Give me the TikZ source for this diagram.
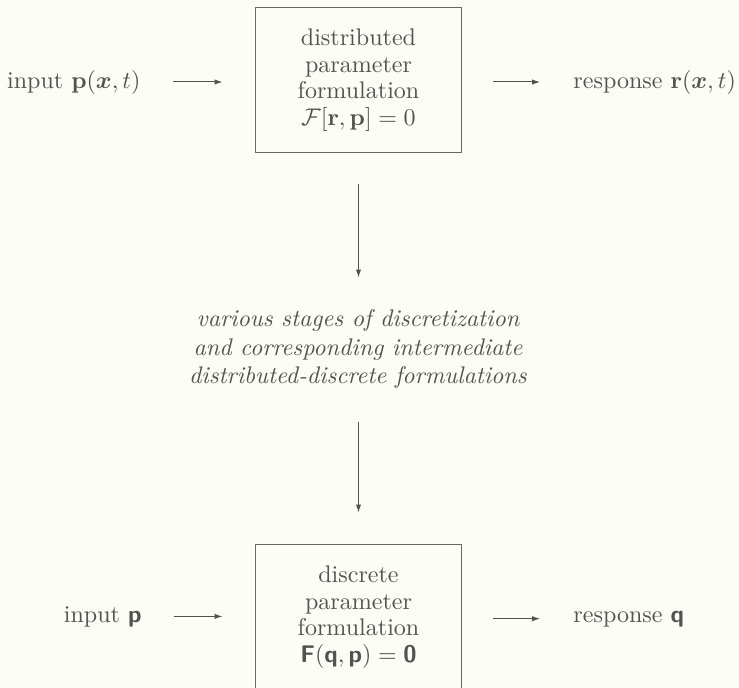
\documentclass[tikz,border=0pt]{standalone}
\usepackage{amsmath,bm}
\usetikzlibrary{arrows.meta}
\definecolor{ink}{RGB}{82,82,78}
\definecolor{rule}{RGB}{105,105,100}
\definecolor{paper}{RGB}{252,253,246}
\newcommand{\sfbold}[1]{\text{\sffamily\bfseries #1}}
\begin{document}
\begin{tikzpicture}[x=0.416pt,y=-0.416pt,
  every node/.style={text=ink},
  formbox/.style={draw=rule, line width=0.42pt, minimum width=86.1pt, minimum height=60.7pt,
    align=center, inner sep=0pt, font=\fontsize{10}{11}\selectfont},
  lbl/.style={inner sep=0pt},
  midtext/.style={inner sep=0pt, align=center, font=\itshape},
  arr/.style={draw=ink, line width=0.42pt, -{Latex[length=3.3pt,width=2.2pt]}}]
\fill[paper] (0,0) rectangle (739,688);
\useasboundingbox (0,0) rectangle (739,688);
\clip (0,0) rectangle (739,688);

% top row
\node[formbox] (top) at (358.5,80) {distributed\\parameter\\formulation\\$\mathcal{F}[\mathbf{r},\mathbf{p}]=0$};
\node[lbl, anchor=base east] (in1) at (141,88) {input $\mathbf{p}(\bm{x},t)$};
\node[lbl, anchor=base west] (out1) at (573,88) {response $\mathbf{r}(\bm{x},t)$};

% middle text
\node[midtext] (mid) at (358,349) {various stages of discretization\\and corresponding intermediate\\distributed-discrete formulations};

% bottom row
\node[formbox] (bot) at (358.5,617) {discrete\\parameter\\formulation\\$\sfbold{F}(\sfbold{q},\sfbold{p})=\sfbold{0}$};
\node[lbl, anchor=base east] (in2) at (142,622) {input $\sfbold{p}$};
\node[lbl, anchor=base west] (out2) at (573,622) {response $\sfbold{q}$};

% arrows
\draw[arr, shorten <=13.3pt, shorten >=13.3pt] (in1.east) -- (in1.east -| top.west);
\draw[arr, shorten <=12.5pt, shorten >=13.7pt] (out1.west -| top.east) -- (out1.west);
\draw[arr, shorten <=13.3pt, shorten >=13.3pt] (in2.east) -- (in2.east -| bot.west);
\draw[arr, shorten <=12.5pt, shorten >=13.7pt] (out2.west -| bot.east) -- (out2.west);
\draw[arr, shorten <=12.5pt] (top.south) -- ++(0,124);
\draw[arr, shorten >=12.9pt] (bot.north) ++(0,-122) -- (bot.north);
\end{tikzpicture}
\end{document}
